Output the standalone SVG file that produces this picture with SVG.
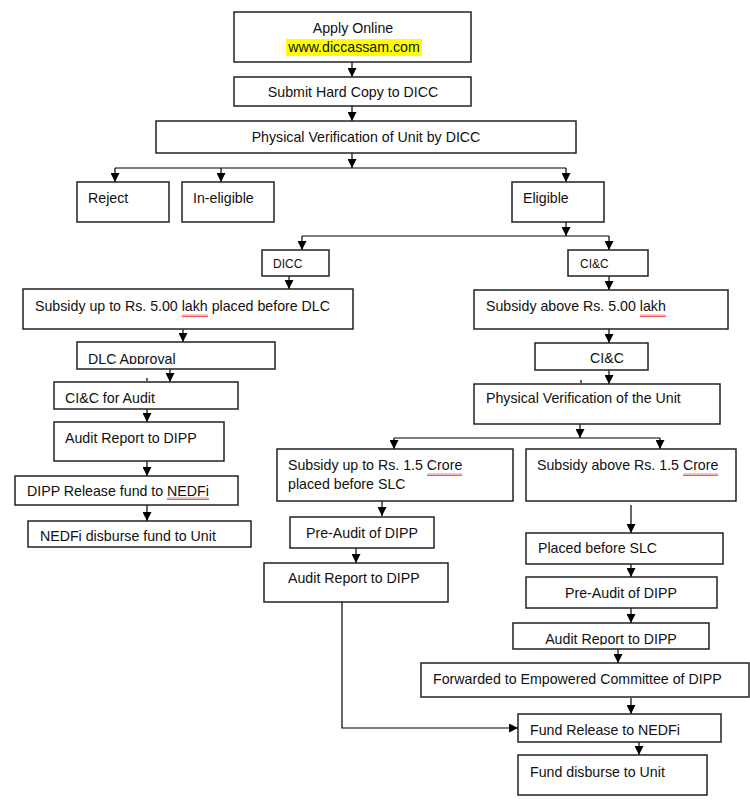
<svg xmlns="http://www.w3.org/2000/svg" width="750" height="810" viewBox="0 0 750 810">
<style>
.box{fill:#fff;stroke:#222;stroke-width:1.5}
.t{font-family:"Liberation Sans",Arial,sans-serif;font-size:14.2px;fill:#111}
.s{font-size:12px}
.c{text-anchor:middle}
.ln{fill:none;stroke:#000;stroke-width:1.2}
.sq{fill:url(#sq)}
</style>
<defs>
<marker id="ah" markerWidth="9" markerHeight="9" refX="9" refY="4.5" orient="auto" markerUnits="userSpaceOnUse"><path d="M0,0 L9,4.5 L0,9 z" fill="#000"/></marker>
<pattern id="sq" width="4" height="3" patternUnits="userSpaceOnUse"><path d="M0,2.5 L1,0.5 L2,2.5 L3,0.5 L4,2.5" fill="none" stroke="#e03030" stroke-width="0.8"/></pattern>
<clipPath id="clipDLC"><rect x="77" y="342" width="198" height="22"/></clipPath>
<clipPath id="clipAR"><rect x="513" y="623" width="196" height="22"/></clipPath>
</defs>
<rect width="750" height="810" fill="#fff"/>

<g id="connectors">
<path class="ln" marker-end="url(#ah)" d="M352,62 V77"/>
<path class="ln" marker-end="url(#ah)" d="M352,106 V121"/>
<path class="ln" marker-end="url(#ah)" d="M352,153 V168"/>
<path class="ln" d="M115,168 H566"/>
<path class="ln" marker-end="url(#ah)" d="M115,168 V182"/>
<path class="ln" marker-end="url(#ah)" d="M221,168 V182"/>
<path class="ln" marker-end="url(#ah)" d="M566,168 V182"/>
<path class="ln" marker-end="url(#ah)" d="M566,222 V236"/>
<path class="ln" d="M302,236 H609"/>
<path class="ln" marker-end="url(#ah)" d="M302,236 V250"/>
<path class="ln" marker-end="url(#ah)" d="M609,236 V250"/>
<path class="ln" marker-end="url(#ah)" d="M289,276 V289"/>
<path class="ln" marker-end="url(#ah)" d="M609,276 V290"/>
<path class="ln" marker-end="url(#ah)" d="M183,329 V342"/>
<path class="ln" marker-end="url(#ah)" d="M170,369 V382"/>
<path class="ln" d="M147,378 V381"/>
<path class="ln" marker-end="url(#ah)" d="M147,409 V422"/>
<path class="ln" marker-end="url(#ah)" d="M147,461 V476"/>
<path class="ln" marker-end="url(#ah)" d="M147,505 V521"/>
<path class="ln" marker-end="url(#ah)" d="M609,329 V343"/>
<path class="ln" marker-end="url(#ah)" d="M609,370 V384"/>
<path class="ln" d="M581,380 V383"/>
<path class="ln" marker-end="url(#ah)" d="M580,424 V438"/>
<path class="ln" d="M394,438 H660"/>
<path class="ln" marker-end="url(#ah)" d="M394,438 V449"/>
<path class="ln" marker-end="url(#ah)" d="M660,438 V449"/>
<path class="ln" marker-end="url(#ah)" d="M382,501 V516"/>
<path class="ln" marker-end="url(#ah)" d="M356,548 V563"/>
<path class="ln" marker-end="url(#ah)" d="M342,597 V728 H518"/>
<path class="ln" marker-end="url(#ah)" d="M631,505 V533"/>
<path class="ln" marker-end="url(#ah)" d="M631,564 V577"/>
<path class="ln" marker-end="url(#ah)" d="M631,608 V623"/>
<path class="ln" marker-end="url(#ah)" d="M618,649 V663"/>
<path class="ln" marker-end="url(#ah)" d="M631,698 V714"/>
<path class="ln" marker-end="url(#ah)" d="M639,742 V755"/>
</g>

<g id="apply">
<rect class="box" x="234" y="12" width="237" height="50"/>
<text class="t c" x="353" y="33">Apply Online</text>
<rect x="286" y="39" width="136" height="17" fill="#ffff00"/>
<text class="t c" x="354" y="52">www.diccassam.com</text>
</g>
<g id="submit"><rect class="box" x="234" y="77" width="237" height="29"/><text class="t c" x="353" y="97">Submit Hard Copy to DICC</text></g>
<g id="pv"><rect class="box" x="156" y="121" width="420" height="32"/><text class="t c" x="366" y="142">Physical Verification of Unit by DICC</text></g>
<g id="reject"><rect class="box" x="77" y="182" width="92" height="40"/><text class="t" x="88" y="203">Reject</text></g>
<g id="ineligible"><rect class="box" x="182" y="182" width="92" height="40"/><text class="t" x="193" y="203">In-eligible</text></g>
<g id="eligible"><rect class="box" x="512" y="182" width="92" height="40"/><text class="t" x="523" y="203">Eligible</text></g>

<g id="dicc"><rect class="box" x="262" y="250" width="67" height="26"/><text class="t s" x="273" y="268">DICC</text></g>
<g id="cic1"><rect class="box" x="568" y="250" width="80" height="26"/><text class="t s" x="580" y="268">CI&amp;C</text></g>

<g id="sub5below"><rect class="box" x="23" y="289" width="330" height="40"/><text class="t" x="35" y="311">Subsidy up to Rs. 5.00 lakh placed before DLC</text><rect class="sq" x="182" y="314" width="26" height="3"/></g>
<g id="sub5above"><rect class="box" x="474" y="290" width="254" height="39"/><text class="t" x="486" y="311">Subsidy above Rs. 5.00 lakh</text><rect class="sq" x="640" y="314" width="26" height="3"/></g>

<g id="dlc"><rect class="box" x="77" y="342" width="198" height="27"/><text class="t" x="88" y="363.5" clip-path="url(#clipDLC)">DLC Approval</text></g>
<g id="cicaudit"><rect class="box" x="54" y="382" width="184" height="27"/><text class="t" x="65" y="403">CI&amp;C for Audit</text></g>
<g id="auditL"><rect class="box" x="54" y="422" width="170" height="39"/><text class="t" x="65" y="443">Audit Report to DIPP</text></g>
<g id="dippRelease"><rect class="box" x="15" y="476" width="223" height="29"/><text class="t" x="27" y="496">DIPP Release fund to NEDFi</text><rect class="sq" x="167" y="497" width="42" height="3"/></g>
<g id="nedfiDisburse"><rect class="box" x="28" y="521" width="223" height="26"/><text class="t" x="40" y="541">NEDFi disburse fund to Unit</text></g>

<g id="cic2"><rect class="box" x="535" y="343" width="113" height="27"/><text class="t" x="590" y="363">CI&amp;C</text></g>
<g id="pvUnit"><rect class="box" x="474" y="384" width="246" height="40"/><text class="t" x="486" y="403">Physical Verification of the Unit</text></g>

<g id="sub15below"><rect class="box" x="277" y="449" width="236" height="52"/><text class="t" x="288" y="470">Subsidy up to Rs. 1.5 Crore</text><text class="t" x="288" y="489">placed before SLC</text><rect class="sq" x="427" y="473" width="35" height="3"/></g>
<g id="sub15above"><rect class="box" x="526" y="449" width="210" height="52"/><text class="t" x="537" y="470">Subsidy above Rs. 1.5 Crore</text><rect class="sq" x="683" y="473" width="35" height="3"/></g>

<g id="preauditL"><rect class="box" x="290" y="517" width="144" height="31"/><text class="t c" x="362" y="538">Pre-Audit of DIPP</text></g>
<g id="auditM"><rect class="box" x="264" y="563" width="184" height="39"/><text class="t" x="288" y="583">Audit Report to DIPP</text></g>

<g id="placedSLC"><rect class="box" x="526" y="533" width="197" height="31"/><text class="t" x="538" y="553">Placed before SLC</text></g>
<g id="preauditR"><rect class="box" x="526" y="577" width="191" height="31"/><text class="t c" x="621" y="598">Pre-Audit of DIPP</text></g>
<g id="auditR"><rect class="box" x="513" y="623" width="196" height="26"/><text class="t c" x="611" y="644" clip-path="url(#clipAR)">Audit Report to DIPP</text></g>
<g id="forwarded"><rect class="box" x="421" y="663" width="328" height="34"/><text class="t" x="433" y="684">Forwarded to Empowered Committee of DIPP</text></g>
<g id="fundRelease"><rect class="box" x="518" y="714" width="203" height="28"/><text class="t" x="530" y="735">Fund Release to NEDFi</text></g>
<g id="fundDisburse"><rect class="box" x="518" y="755" width="189" height="40"/><text class="t" x="530" y="777">Fund disburse to Unit</text></g>
</svg>
